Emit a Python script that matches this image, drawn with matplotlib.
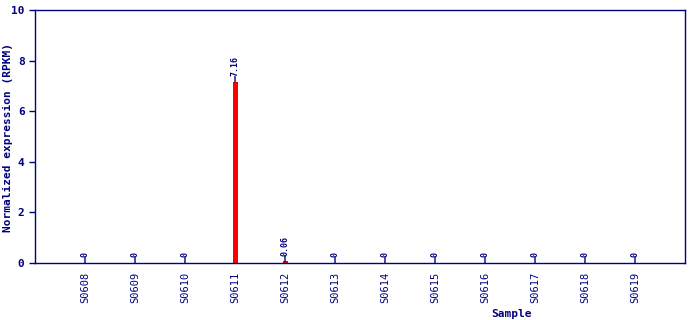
import numpy as np
import matplotlib
matplotlib.use('Agg')
import matplotlib.pyplot as plt

samples = ['S0608', 'S0609', 'S0610', 'S0611', 'S0612', 'S0613',
           'S0614', 'S0615', 'S0616', 'S0617', 'S0618', 'S0619']
values = [0, 0, 0, 7.16, 0.06, 0, 0, 0, 0, 0, 0, 0]
labels = ['0', '0', '0', '7.16', '0.06', '0', '0', '0', '0', '0', '0', '0']

navy = '#000080'
plt.rcParams['font.family'] = ['DejaVu Sans Mono']

fig = plt.figure(figsize=(6.9, 3.2), dpi=100)
ax = fig.add_axes([35/690, 1 - 263/320, 650/690, 253/320])

x = np.arange(1, len(samples) + 1)
ax.bar(x, values, width=0.1, color='#ff0000', zorder=2)

# value labels with a short stem
for xi, v, lab in zip(x, values, labels):
    ax.annotate('', xy=(xi, v), xytext=(0, 4), textcoords='offset points',
                arrowprops=dict(arrowstyle='-', color=navy, lw=1,
                                shrinkA=0, shrinkB=0))
    ax.annotate(lab, xy=(xi, v), xytext=(0, 4), textcoords='offset points',
                rotation=90, ha='center', va='bottom', fontsize=6,
                color=navy, fontweight='bold')

ax.set_xlim(0, 13)
ax.set_ylim(0, 10)
ax.set_xticks(x)
ax.set_xticklabels(samples, rotation=90, fontsize=7.5, color=navy)
ax.set_yticks([0, 2, 4, 6, 8, 10])
ax.set_yticklabels(['0', '2', '4', '6', '8', '10'], fontsize=8,
                   fontweight='bold', color=navy)
ax.tick_params(axis='y', colors=navy, length=4, width=1)
ax.tick_params(axis='x', colors=navy, length=0, pad=6)
for s in ax.spines.values():
    s.set_color(navy)
    s.set_linewidth(1)

ax.set_ylabel('Normalized expression (RPKM)', fontsize=8, fontweight='bold',
              color=navy)
ax.yaxis.set_label_coords((13 - 35) / 650, (263 - 137) / 253)
ax.set_xlabel('Sample', fontsize=8, fontweight='bold', color=navy)
ax.xaxis.set_label_coords((512 - 35) / 650, -(309 - 263) / 253)

fig.savefig('out.png', dpi=100)
